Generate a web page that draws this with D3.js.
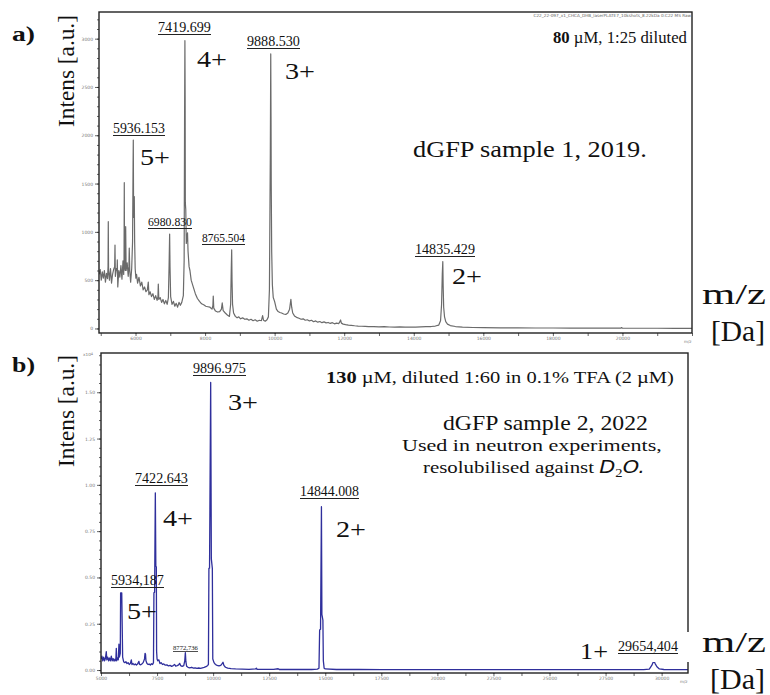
<!DOCTYPE html>
<html>
<head>
<meta charset="utf-8">
<script src="https://cdn.jsdelivr.net/npm/d3@7"></script>
<style>
body { margin: 0; background: #fff; }
svg { display: block; }
.serif { font-family: "Liberation Serif", "DejaVu Serif", serif; fill: #111; }
.tick text { font-family: "DejaVu Sans", sans-serif; fill: #777; }
</style>
</head>
<body>
<svg id="fig" width="770" height="695"></svg>
<script>
// ---- spectrum a) 2019, [m/z, intensity a.u.]
var specA = [
[4955,560],[4985,610],[5015,500],[5045,585],[5075,520],[5105,600],[5135,480],[5165,570],[5195,515],[5210,640],[5217,1105],[5225,600],
[5250,500],[5280,620],[5310,470],[5340,560],[5370,610],[5400,640],[5410,864],[5420,540],[5450,620],[5470,600],[5476,709],[5490,430],
[5520,600],[5550,530],[5580,650],[5610,510],[5640,700],[5660,560],[5670,720],[5677,1509],[5685,640],[5705,600],[5717,1054],[5730,600],
[5760,680],[5790,540],[5810,640],[5820,833],[5835,600],[5860,480],[5890,620],[5915,900],[5930,1700],[5936,1951],[5945,1150],[5958,1200],
[5965,1364],[5975,900],[5990,620],[6010,520],[6030,560],[6060,470],[6100,530],[6140,440],[6180,480],[6220,400],[6260,430],[6300,380],
[6340,400],[6367,480],[6385,350],[6420,380],[6460,330],[6500,360],[6540,300],[6580,340],[6620,290],[6645,330],[6655,460],[6670,300],
[6710,320],[6750,270],[6790,300],[6830,255],[6870,290],[6910,250],[6945,320],[6965,650],[6981,978],[6992,640],[7010,330],[7050,250],
[7090,280],[7130,230],[7170,260],[7210,220],[7250,270],[7290,240],[7330,270],[7375,340],[7398,700],[7410,2100],[7420,2979],[7427,2400],
[7432,1300],[7445,1230],[7460,880],[7480,950],[7495,990],[7510,800],[7540,640],[7565,600],[7600,500],[7660,430],[7720,360],[7780,310],
[7840,280],[7900,255],[7960,245],[8020,230],[8080,225],[8140,220],[8200,200],[8225,240],[8235,336],[8250,210],[8300,180],[8360,170],
[8420,175],[8470,200],[8493,264],[8520,185],[8580,160],[8640,140],[8700,125],[8735,250],[8752,600],[8765,813],[8775,500],[8790,250],
[8820,160],[8870,125],[8920,110],[8970,120],[9020,100],[9080,110],[9140,95],[9200,100],[9260,85],[9320,95],[9380,80],[9440,90],
[9500,75],[9560,85],[9620,80],[9654,132],[9680,85],[9730,75],[9780,90],[9820,120],[9850,400],[9868,1400],[9876,1816],[9888,2842],
[9896,2200],[9902,1500],[9915,800],[9935,450],[9960,320],[10000,278],[10050,200],[10100,175],[10150,165],[10200,160],[10260,150],
[10320,145],[10380,160],[10430,200],[10467,302],[10490,220],[10520,160],[10570,130],[10630,115],[10700,105],[10760,95],[10820,100],
[10880,85],[10940,90],[11000,78],[11060,85],[11120,70],[11180,78],[11240,65],[11300,72],[11360,60],[11420,68],[11480,58],[11540,62],
[11600,52],[11660,60],[11720,48],[11780,55],[11840,50],[11870,65],[11895,88],[11920,55],[11970,45],[12040,40],[12120,35],[12200,32],
[12300,28],[12400,25],[12500,23],[12600,22],[12700,20],[12850,18],[13000,17],[13150,20],[13300,15],[13450,14],[13600,16],[13750,13],
[13900,15],[14050,14],[14200,16],[14350,18],[14500,20],[14620,25],[14720,35],[14770,80],[14800,250],[14820,560],[14835,692],[14845,450],
[14860,220],[14885,120],[14920,70],[14970,45],[15050,30],[15200,20],[15400,14],[15700,10],[16000,8],[16500,7],[17000,6],[17500,5],
[18000,5],[18500,4],[19000,4],[19500,3],[19950,3],[19975,10],[20000,3],[20500,2],[21000,2],[21500,1],[22000,1]
];

// ---- spectrum b) 2022, [m/z, intensity x10^4 a.u.]
var specB = [
[5000,0.06],[5040,0.075],[5080,0.05],[5120,0.07],[5160,0.05],[5200,0.065],[5236,0.099],[5260,0.055],[5300,0.07],[5340,0.05],
[5380,0.065],[5420,0.05],[5460,0.075],[5500,0.05],[5540,0.062],[5580,0.048],[5620,0.058],[5660,0.05],[5683,0.117],[5700,0.05],
[5740,0.065],[5770,0.055],[5800,0.14],[5820,0.07],[5860,0.09],[5875,0.417],[5925,0.417],[5950,0.198],[5965,0.07],[6010,0.045],
[6060,0.04],[6110,0.045],[6160,0.035],[6210,0.04],[6260,0.03],[6310,0.036],[6352,0.055],[6380,0.03],[6430,0.035],[6480,0.028],
[6530,0.033],[6580,0.027],[6630,0.032],[6690,0.047],[6720,0.03],[6770,0.028],[6820,0.033],[6880,0.04],[6940,0.06],[6965,0.09],
[6985,0.085],[7005,0.05],[7050,0.035],[7100,0.03],[7150,0.032],[7200,0.027],[7250,0.034],[7300,0.03],[7340,0.04],[7360,0.417],
[7390,0.42],[7423,0.957],[7445,0.56],[7467,0.558],[7480,0.1],[7500,0.06],[7530,0.05],[7580,0.055],[7630,0.035],[7680,0.04],
[7740,0.03],[7800,0.033],[7870,0.026],[7940,0.028],[8010,0.022],[8080,0.025],[8150,0.02],[8220,0.024],[8284,0.03],[8330,0.021],
[8400,0.024],[8460,0.028],[8507,0.036],[8550,0.024],[8620,0.02],[8690,0.024],[8735,0.05],[8762,0.094],[8785,0.045],[8820,0.02],
[8880,0.015],[8960,0.012],[9040,0.015],[9120,0.01],[9200,0.012],[9280,0.009],[9360,0.011],[9440,0.009],[9520,0.012],[9600,0.014],
[9680,0.018],[9760,0.025],[9790,0.03],[9812,0.549],[9840,0.55],[9891,1.553],[9920,0.6],[9965,0.549],[9985,0.06],[10040,0.04],
[10100,0.03],[10180,0.025],[10260,0.022],[10340,0.025],[10400,0.035],[10440,0.042],[10480,0.025],[10550,0.015],[10650,0.01],
[10800,0.008],[11000,0.006],[11300,0.005],[11600,0.004],[11900,0.006],[11930,0.01],[11960,0.004],[12300,0.004],[12700,0.004],
[12900,0.007],[12950,0.003],[13400,0.003],[13900,0.003],[14400,0.003],[14650,0.005],[14720,0.01],[14750,0.216],[14790,0.22],
[14830,0.882],[14850,0.3],[14895,0.27],[14915,0.05],[14950,0.01],[15000,0.006],[15500,0.003],[16500,0.003],[17500,0.002],
[18500,0.002],[19500,0.002],[20500,0.002],[21500,0.002],[22500,0.002],[23500,0.002],[24500,0.002],[25500,0.002],[26500,0.002],
[27500,0.002],[28500,0.002],[29200,0.002],[29450,0.005],[29560,0.025],[29650,0.05],[29710,0.035],[29790,0.018],[29900,0.006],
[30100,0.003],[31200,0.002]
];

// axis ticks
var yTicksA = [0, 500, 1000, 1500, 2000, 2500, 3000];
var xTicksA = [6000, 8000, 10000, 12000, 14000, 16000, 18000, 20000];
var yTicksB = [0, 0.25, 0.5, 0.75, 1.0, 1.25, 1.5];
var xTicksB = [5000, 7500, 10000, 12500, 15000, 17500, 20000, 22500, 25000, 27500, 30000];

// peak labels
var peaksA = ["7419.699", "9888.530", "5936.153", "6980.830", "8765.504", "14835.429"];
var chargesA = ["4+", "3+", "5+", "2+"];
var peaksB = ["9896.975", "7422.643", "14844.008", "5934,187", "8772,736", "29654,404"];
var chargesB = ["3+", "4+", "2+", "5+", "1+"];

var svg = d3.select("#fig");

// text squeezed/stretched to a target width
function fitText(g, x, y, w, parts, size, rot) {
    var t = g.append("text").attr("class", "serif").attr("font-size", size);
    parts.forEach(function(p) {
        var s = t.append("tspan").text(p.t);
        if (p.b) s.attr("font-weight", "bold");
        if (p.i) s.attr("font-style", "italic").style("font-family", "'DejaVu Sans', sans-serif");
        if (p.sub) s.attr("font-size", size * 0.7);
        if (p.dy) s.attr("dy", p.dy);
    });
    var nat = t.node().getComputedTextLength();
    var sx = w / nat;
    if (rot) {
        t.attr("text-anchor", "middle")
         .attr("transform", "translate(" + x + "," + y + ") rotate(-90) scale(" + sx + ",1)");
    } else {
        t.attr("transform", "translate(" + x + "," + y + ") scale(" + sx + ",1)");
    }
    return t;
}

function peakLabel(g, txt, x, y, w, size) {
    fitText(g, x, y, w, [{t: txt}], size);
    g.append("line")
        .attr("x1", x).attr("x2", x + w)
        .attr("y1", y + 2.5).attr("y2", y + 2.5)
        .attr("stroke", "#222").attr("stroke-width", 1);
}

function drawPanel(cfg) {
    var g = svg.append("g");
    var x = d3.scaleLinear().domain(cfg.xDomain).range([cfg.left, cfg.right]);
    var y = d3.scaleLinear().domain(cfg.yDomain).range([cfg.bottom, cfg.top]);

    var clipId = "clip" + cfg.id;
    g.append("clipPath").attr("id", clipId).append("rect")
        .attr("x", cfg.left).attr("y", cfg.top)
        .attr("width", cfg.right - cfg.left).attr("height", cfg.bottom - cfg.top);

    // minor ticks
    g.append("g")
        .attr("transform", "translate(" + cfg.left + ",0)")
        .call(d3.axisLeft(y).tickValues(cfg.yMinor).tickSize(2).tickFormat(""))
        .call(function(a) { a.select(".domain").remove(); });
    g.append("g")
        .attr("transform", "translate(0," + cfg.bottom + ")")
        .call(d3.axisBottom(x).tickValues(cfg.xMinor).tickSize(3).tickFormat(""))
        .call(function(a) { a.select(".domain").remove(); });

    // major ticks + labels
    var ya = g.append("g")
        .attr("transform", "translate(" + cfg.left + ",0)")
        .call(d3.axisLeft(y).tickValues(cfg.yTicks).tickSize(4).tickPadding(2).tickFormat(cfg.yFormat));
    ya.select(".domain").remove();
    ya.selectAll("text").attr("font-size", 4.5);
    var xa = g.append("g")
        .attr("transform", "translate(0," + cfg.bottom + ")")
        .call(d3.axisBottom(x).tickValues(cfg.xTicks).tickSize(1).tickPadding(3).tickFormat(d3.format("d")));
    xa.select(".domain").remove();
    xa.selectAll("text").attr("font-size", 4.5);
    g.selectAll(".tick line").attr("stroke", "#222").attr("stroke-width", 0.7);

    // spectrum
    var line = d3.line().x(function(d) { return x(d[0]); }).y(function(d) { return y(d[1]); });
    g.append("path")
        .datum(cfg.data)
        .attr("clip-path", "url(#" + clipId + ")")
        .attr("fill", "none")
        .attr("stroke", cfg.color)
        .attr("stroke-width", cfg.lw)
        .attr("stroke-linejoin", "round")
        .attr("d", line);

    // frame
    g.append("rect")
        .attr("x", cfg.left).attr("y", cfg.top)
        .attr("width", cfg.right - cfg.left).attr("height", cfg.bottom - cfg.top)
        .attr("fill", "none").attr("stroke", "#222").attr("stroke-width", 1.4);

    // tiny "m/z" unit under the axis
    g.append("text")
        .attr("x", cfg.right - 8).attr("y", cfg.bottom + 10)
        .attr("font-size", 4).attr("fill", "#777")
        .style("font-family", "'DejaVu Sans', sans-serif")
        .text("m/z");
    return g;
}

// ---------------- panel a
var ga = drawPanel({
    id: "a", data: specA, color: "#6b6b6b", lw: 1.2,
    left: 99, right: 692, top: 12, bottom: 333,
    xDomain: [4950, 22000], yDomain: [-47, 3276],
    yTicks: yTicksA, yMinor: d3.range(0, 3201, 100), yFormat: d3.format("d"),
    xTicks: xTicksA, xMinor: d3.range(5000, 22001, 1000)
});

fitText(ga, 12, 41, 23, [{t: "a)", b: true}], 22);
fitText(ga, 74, 71, 112, [{t: "Intens [a.u.]"}], 23, true);
ga.append("text")
    .attr("x", 691).attr("y", 17).attr("text-anchor", "end")
    .attr("font-size", 4.2).attr("fill", "#666")
    .style("font-family", "'DejaVu Sans', sans-serif")
    .text("C22_22-097_x1_CHCA_DHB_laserPLATE7_10kshots_8.22kDa 0:C22 MS Raw");
fitText(ga, 553, 43, 134, [{t: "80", b: true}, {t: " \u00b5M, 1:25 diluted"}], 16);
fitText(ga, 413, 157, 234, [{t: "dGFP sample 1, 2019."}], 24);

peakLabel(ga, peaksA[0], 158, 32, 53, 14);
peakLabel(ga, peaksA[1], 247, 46, 53, 14);
peakLabel(ga, peaksA[2], 113, 133, 52, 14);
peakLabel(ga, peaksA[3], 148, 226, 44, 13);
peakLabel(ga, peaksA[4], 202, 242, 43, 13);
peakLabel(ga, peaksA[5], 415, 254, 60, 14);

fitText(ga, 197, 67, 30, [{t: chargesA[0]}], 23);
fitText(ga, 285, 79, 30, [{t: chargesA[1]}], 23);
fitText(ga, 140, 165, 30, [{t: chargesA[2]}], 23);
fitText(ga, 452, 284, 30, [{t: chargesA[3]}], 23);

fitText(ga, 702, 304, 64, [{t: "m/z"}], 30);
fitText(ga, 711, 341, 54, [{t: "[Da]"}], 30);

// ---------------- panel b
var gb = drawPanel({
    id: "b", data: specB, color: "#2f2f9c", lw: 1.3,
    left: 101, right: 688, top: 353, bottom: 673,
    xDomain: [5000, 31176], yDomain: [-0.016, 1.712],
    yTicks: yTicksB, yMinor: d3.range(0, 1.71, 0.05), yFormat: d3.format(".2f"),
    xTicks: xTicksB, xMinor: d3.range(5000, 31001, 1250)
});

fitText(gb, 12, 372, 23, [{t: "b)", b: true}], 22);
fitText(gb, 74, 411, 112, [{t: "Intens [a.u.]"}], 23, true);
gb.append("text")
    .attr("x", 83).attr("y", 356)
    .attr("font-size", 4.2).attr("fill", "#777")
    .style("font-family", "'DejaVu Sans', sans-serif")
    .text("x10")
    .append("tspan").attr("dy", -1.5).attr("font-size", 3.5).text("4");

fitText(gb, 326, 383, 348, [{t: "130", b: true}, {t: " \u00b5M, diluted 1:60 in 0.1% TFA (2 \u00b5M)"}], 16);
fitText(gb, 443, 430, 205, [{t: "dGFP sample 2, 2022"}], 21);
fitText(gb, 402, 451, 260, [{t: "Used in neutron experiments,"}], 17);
fitText(gb, 423, 473, 222, [{t: "resolubilised against "}, {t: "D", i: true}, {t: "2", sub: true, dy: 4}, {t: "O.", i: true, dy: -4}], 17);

peakLabel(gb, peaksB[0], 193, 373, 53, 14);
peakLabel(gb, peaksB[1], 135, 483, 53, 14);
peakLabel(gb, peaksB[2], 300, 496, 59, 14);
peakLabel(gb, peaksB[3], 111, 585, 53, 14);

// white box behind the 1+ label
gb.append("rect").attr("x", 572).attr("y", 632).attr("width", 128).attr("height", 30).attr("fill", "#fff");
peakLabel(gb, peaksB[5], 618, 651, 60, 14);
fitText(gb, 173, 650, 25, [{t: peaksB[4]}], 6);
gb.append("line").attr("x1", 173).attr("x2", 198).attr("y1", 651.5).attr("y2", 651.5)
    .attr("stroke", "#222").attr("stroke-width", 0.8);

fitText(gb, 228, 410, 30, [{t: chargesB[0]}], 23);
fitText(gb, 163, 526, 30, [{t: chargesB[1]}], 23);
fitText(gb, 336, 537, 30, [{t: chargesB[2]}], 23);
fitText(gb, 127, 619, 30, [{t: chargesB[3]}], 23);
fitText(gb, 580, 659, 28, [{t: chargesB[4]}], 23);

fitText(gb, 702, 652, 64, [{t: "m/z"}], 30);
fitText(gb, 710, 689, 55, [{t: "[Da]"}], 30);
</script>
</body>
</html>
